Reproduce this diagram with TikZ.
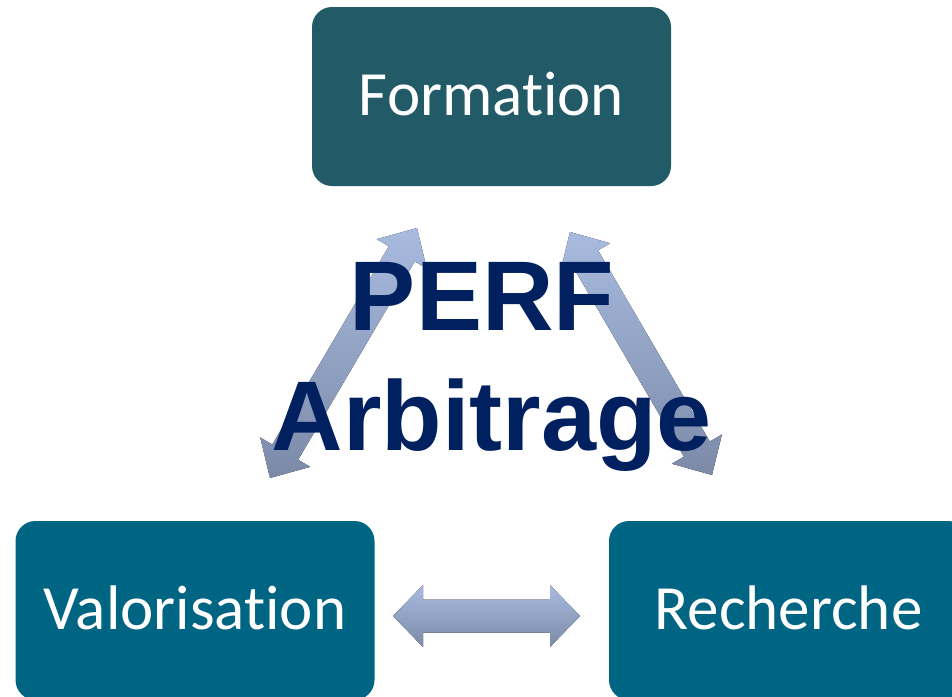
\documentclass[tikz,border=0pt]{standalone}
\usepackage{fontspec}
\setmainfont{Carlito}[RawFeature={-liga;-clig;-dlig}]
\newfontfamily\arialfont{Liberation Sans}
\usetikzlibrary{calc}
\definecolor{formc}{HTML}{225A68}
\definecolor{lowc}{HTML}{006582}
\definecolor{navy}{HTML}{002060}
\definecolor{arrtop}{HTML}{A8BBDF}
\definecolor{arrbot}{HTML}{7C8AA8}
\newcommand\dblarrow[5]{%
  % #1,#2 tips, #3 head length, #4 head half width, #5 shaft half width
  \fill[top color=arrtop,bottom color=arrbot]
    (#1) -- ($(#1)!#3!(#2)!#4!90:(#2)$) -- ($(#1)!#3!(#2)!#5!90:(#2)$)
    -- ($(#2)!#3!(#1)!#5!-90:(#1)$) -- ($(#2)!#3!(#1)!#4!-90:(#1)$)
    -- (#2) -- ($(#2)!#3!(#1)!#4!90:(#1)$) -- ($(#2)!#3!(#1)!#5!90:(#1)$)
    -- ($(#1)!#3!(#2)!#5!-90:(#2)$) -- ($(#1)!#3!(#2)!#4!-90:(#2)$) -- cycle;}
\begin{document}
\begin{tikzpicture}[x=1pt,y=-1pt,
  box/.style={rounded corners=20pt,minimum width=359pt,minimum height=179pt,inner sep=0pt,
    text=white,font=\fontsize{63}{63}\selectfont,text height=37pt,text depth=0pt},
  bigtext/.style={text=navy,font=\arialfont\bfseries\fontsize{99}{99}\selectfont,anchor=base,inner sep=0pt}]
\useasboundingbox (0,0) rectangle (952,696);
\clip (0,0) rectangle (952,696);
\node[box,fill=formc] (form) at (491.5,96.5) {Formation};
\node[box,fill=lowc] (valo) at (195,610.5) {Valorisation};
\node[box,fill=lowc] (rech) at (788.5,610.5) {Recherche};
\coordinate (l1) at (417,228);
\coordinate (l2) at (270,478);
\coordinate (r1) at (570,232);
\coordinate (r2) at (712,475);
\coordinate (h1) at (393,616);
\coordinate (h2) at (580,616);
\dblarrow{l1}{l2}{30pt}{29pt}{15pt}
\dblarrow{r1}{r2}{30pt}{29pt}{15pt}
\dblarrow{h1}{h2}{30pt}{31pt}{16.5pt}
\node[bigtext] (perf) at (482,330) {PERF};
\node[bigtext] (arb) at (492,450) {Arbitrage};
\end{tikzpicture}
\end{document}
